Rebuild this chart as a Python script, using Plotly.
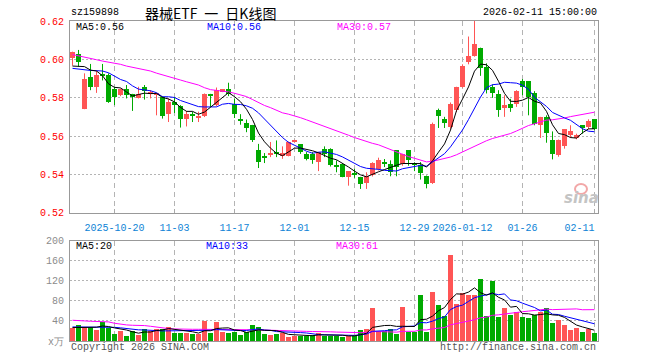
import numpy as np
import plotly.graph_objects as go

# ---------------- data ----------------
tick_idx = [7, 17, 27, 37, 47, 57, 65, 75, 87]
tick_text = ["2025-10-20", "11-03", "11-17", "12-01", "12-15", "12-29",
             "2026-01-12", "01-26", "02-11" + "\u00a0" * 5]

opens = [0.6009, 0.6028, 0.5743, 0.5906, 0.5857, 0.5925, 0.5918, 0.5843, 0.5813, 0.5843,
         0.5818, 0.5796, 0.5857, 0.5817, 0.5816, 0.5804, 0.5717, 0.5778, 0.5755, 0.5687,
         0.5714, 0.5696, 0.5703, 0.5818, 0.5761, 0.5831, 0.5843, 0.5769, 0.5687, 0.5668,
         0.5656, 0.5525, 0.5488, 0.5504, 0.5514, 0.5497, 0.5497, 0.5569, 0.5556, 0.5504,
         0.5507, 0.5463, 0.5534, 0.5534, 0.5447, 0.5455, 0.5385, 0.5404, 0.5385, 0.5353,
         0.5397, 0.5429, 0.5458, 0.5455, 0.5525, 0.5455, 0.5525, 0.5455, 0.5450, 0.5390,
         0.5354, 0.5734, 0.5687, 0.5647, 0.5734, 0.5857, 0.5988, 0.6019, 0.6061, 0.5962,
         0.5857, 0.5818, 0.5747, 0.5769, 0.5769, 0.5887, 0.5887, 0.5827, 0.5659, 0.5700,
         0.5577, 0.5499, 0.5548, 0.5603, 0.5590, 0.5656, 0.5647, 0.5687]
highs = [0.6040, 0.6049, 0.5927, 0.5976, 0.5941, 0.5976, 0.5927, 0.5857, 0.5848, 0.5866,
         0.5820, 0.5857, 0.5866, 0.5839, 0.5820, 0.5808, 0.5796, 0.5804, 0.5761, 0.5731,
         0.5727, 0.5727, 0.5822, 0.5820, 0.5853, 0.5845, 0.5878, 0.5796, 0.5714, 0.5686,
         0.5658, 0.5559, 0.5511, 0.5569, 0.5577, 0.5546, 0.5571, 0.5580, 0.5558, 0.5516,
         0.5516, 0.5516, 0.5546, 0.5536, 0.5473, 0.5458, 0.5415, 0.5429, 0.5387, 0.5411,
         0.5463, 0.5487, 0.5480, 0.5473, 0.5527, 0.5507, 0.5527, 0.5463, 0.5464, 0.5394,
         0.5670, 0.5743, 0.5700, 0.5775, 0.5857, 0.5974, 0.6119, 0.6200, 0.6061, 0.5979,
         0.5869, 0.5839, 0.5813, 0.5794, 0.5839, 0.5897, 0.5887, 0.5834, 0.5700, 0.5708,
         0.5624, 0.5582, 0.5635, 0.5656, 0.5612, 0.5656, 0.5687, 0.5687]
lows = [0.5967, 0.5962, 0.5740, 0.5839, 0.5825, 0.5890, 0.5773, 0.5761, 0.5808, 0.5796,
        0.5731, 0.5796, 0.5790, 0.5796, 0.5708, 0.5691, 0.5673, 0.5720, 0.5644, 0.5650,
        0.5673, 0.5673, 0.5699, 0.5752, 0.5755, 0.5829, 0.5808, 0.5694, 0.5659, 0.5620,
        0.5569, 0.5433, 0.5459, 0.5490, 0.5490, 0.5481, 0.5494, 0.5567, 0.5507, 0.5473,
        0.5455, 0.5417, 0.5490, 0.5441, 0.5411, 0.5385, 0.5341, 0.5382, 0.5324, 0.5324,
        0.5389, 0.5420, 0.5438, 0.5390, 0.5390, 0.5445, 0.5445, 0.5417, 0.5373, 0.5327,
        0.5350, 0.5642, 0.5642, 0.5638, 0.5725, 0.5852, 0.5974, 0.6014, 0.5914, 0.5822,
        0.5799, 0.5700, 0.5700, 0.5726, 0.5752, 0.5813, 0.5708, 0.5656, 0.5590, 0.5565,
        0.5478, 0.5492, 0.5534, 0.5590, 0.5583, 0.5612, 0.5635, 0.5630]
closes = [0.6038, 0.5988, 0.5895, 0.5857, 0.5918, 0.5915, 0.5778, 0.5801, 0.5843, 0.5813,
          0.5808, 0.5818, 0.5836, 0.5831, 0.5818, 0.5703, 0.5778, 0.5761, 0.5687, 0.5714,
          0.5703, 0.5703, 0.5818, 0.5813, 0.5839, 0.5843, 0.5818, 0.5714, 0.5680, 0.5643,
          0.5577, 0.5463, 0.5486, 0.5514, 0.5510, 0.5514, 0.5569, 0.5577, 0.5516, 0.5481,
          0.5473, 0.5516, 0.5504, 0.5447, 0.5441, 0.5385, 0.5415, 0.5397, 0.5350, 0.5389,
          0.5458, 0.5473, 0.5455, 0.5411, 0.5441, 0.5504, 0.5476, 0.5452, 0.5408, 0.5350,
          0.5665, 0.5703, 0.5668, 0.5769, 0.5857, 0.5967, 0.6019, 0.6080, 0.5953, 0.5839,
          0.5822, 0.5734, 0.5764, 0.5747, 0.5834, 0.5857, 0.5804, 0.5665, 0.5700, 0.5617,
          0.5507, 0.5577, 0.5635, 0.5624, 0.5603, 0.5647, 0.5677, 0.5638]
volumes = [26.7, 32.0, 28.0, 28.7, 22.0, 38.7, 26.7, 14.0, 20.0, 10.0,
           21.3, 12.7, 25.3, 20.0, 25.3, 25.3, 28.0, 16.7, 16.7, 16.7,
           14.0, 14.7, 40.0, 16.7, 38.7, 18.7, 16.7, 18.7, 12.0, 18.7,
           33.3, 28.0, 14.7, 12.0, 14.7, 16.7, 8.0, 10.7, 10.7, 10.7,
           12.0, 17.3, 10.7, 10.7, 10.7, 8.0, 10.7, 10.7, 22.7, 24.7,
           66.7, 20.0, 20.0, 24.0, 14.7, 68.0, 18.7, 18.7, 92.7, 18.7,
           98.7, 72.7, 50.0, 172.7, 74.7, 96.0, 93.3, 92.0, 124.7, 50.0,
           120.0, 48.0, 66.0, 52.7, 58.0, 48.0, 46.0, 53.3, 58.0, 66.0,
           36.7, 42.0, 32.0, 22.0, 26.0, 18.0, 24.7, 16.7]

# moving-average values at the start of the window (history not shown)
ma5_head = [0.5965, 0.5965, 0.5962, 0.5944]
ma10_head = [0.5953, 0.5949, 0.5946, 0.5942, 0.5941, 0.5939, 0.5930, 0.5912, 0.5895]
ma30_head = [0.6025, 0.6019, 0.6012, 0.6005, 0.5998, 0.5991, 0.5986, 0.5979, 0.5974, 0.5965,
             0.5958, 0.5951, 0.5944, 0.5939, 0.5928, 0.5920, 0.5909, 0.5900, 0.5892, 0.5883,
             0.5874, 0.5866, 0.5852, 0.5842, 0.5838, 0.5835, 0.5830, 0.5823, 0.5815]
vma5_head = [26.7, 26.7, 26.7, 27.3]
vma10_head = [28.0, 28.0, 28.0, 28.0, 28.0, 28.0, 28.0, 27.2, 26.2]
vma30_head = [41.3, 41.3, 40.0, 39.3, 38.7, 38.7, 38.0, 35.3, 33.3, 32.0,
              31.3, 31.3, 30.7, 29.3, 27.3, 25.3, 24.7, 24.0, 23.3, 23.3,
              23.3, 23.3, 23.3, 23.3, 23.3, 23.3, 23.3, 22.7, 22.7]

price_ticks = [0.52, 0.54, 0.56, 0.58, 0.60, 0.62]
vol_ticks = [0, 40, 80, 120, 160, 200]
vol_ticktext = ["x万", "40", "80", "120", "160", "200"]

# ---------------- helpers ----------------
def moving_avg(vals, n, head):
    out = []
    for i in range(len(vals)):
        if i < len(head):
            out.append(head[i])
        else:
            out.append(float(np.mean(vals[i - n + 1:i + 1])))
    return out

RED = "#ff5555"
GREEN = "#00aa00"
MONO = "Liberation Mono, DejaVu Sans Mono, monospace"

n = len(closes)
idx = list(range(n))
up = [c >= o for o, c in zip(opens, closes)]
colors = [RED if u else GREEN for u in up]
body_base = [min(o, c) for o, c in zip(opens, closes)]
body_h = [max(abs(c - o), 0.0005) for o, c in zip(opens, closes)]

fig = go.Figure()

# wicks
for flag, col in ((True, RED), (False, GREEN)):
    wx, wy = [], []
    for i in idx:
        if up[i] == flag:
            wx += [i, i, None]
            wy += [lows[i], highs[i], None]
    fig.add_trace(go.Scatter(x=wx, y=wy, mode="lines", line=dict(color=col, width=1),
                             hoverinfo="skip", xaxis="x", yaxis="y"))

# bodies
fig.add_trace(go.Bar(x=idx, y=body_h, base=body_base, width=0.8333,
                     marker=dict(color=colors, line=dict(width=0)),
                     xaxis="x", yaxis="y"))

# price MAs
for vals, col in ((moving_avg(closes, 30, ma30_head), "#ff00ff"),
                  (moving_avg(closes, 10, ma10_head), "#0000ff"),
                  (moving_avg(closes, 5, ma5_head), "#000000")):
    fig.add_trace(go.Scatter(x=idx, y=vals, mode="lines", line=dict(color=col, width=1),
                             xaxis="x", yaxis="y"))

# volume
fig.add_trace(go.Bar(x=idx, y=volumes, width=0.8333,
                     marker=dict(color=colors, line=dict(width=0)),
                     xaxis="x2", yaxis="y2"))
for vals, col in ((moving_avg(volumes, 30, vma30_head), "#ff00ff"),
                  (moving_avg(volumes, 10, vma10_head), "#0000ff"),
                  (moving_avg(volumes, 5, vma5_head), "#000000")):
    fig.add_trace(go.Scatter(x=idx, y=vals, mode="lines", line=dict(color=col, width=1),
                             xaxis="x2", yaxis="y2"))

# ---------------- layout ----------------
L, R, T, B = 70, 598, 21, 341
def px(x):
    return (x - L) / (R - L)
def py(y):
    return (B - y) / (B - T)

xr = [-0.4167, 87.5833]
grid_common = dict(showline=True, linecolor="#999999", linewidth=1, mirror=True,
                   zeroline=False, fixedrange=True)

fig.update_layout(
    width=660, height=360,
    margin=dict(l=L, r=660 - R, t=T, b=360 - B),
    paper_bgcolor="white", plot_bgcolor="white",
    showlegend=False, bargap=0, barmode="overlay",
    xaxis=dict(domain=[0, 1], anchor="y", range=xr, tickmode="array",
               tickvals=tick_idx, ticktext=tick_text,
               showgrid=True, gridcolor="#b4b4b4", griddash="5px,4px", gridwidth=1,
               ticks="inside", ticklen=4, tickcolor="#aaaaaa",
               ticklabelstandoff=5,
               tickfont=dict(family=MONO, size=10, color="#0d83d6"), **grid_common),
    yaxis=dict(domain=[py(212.7), 1], anchor="x", range=[0.52, 0.62],
               tickmode="array", tickvals=price_ticks,
               ticktext=[f"{v:.2f}" for v in price_ticks],
               showgrid=True, gridcolor="#b4b4b4", griddash="2px,2px", gridwidth=1,
               ticks="", ticklabelstandoff=3,
               tickfont=dict(family=MONO, size=10, color="#ff0000"), **grid_common),
    xaxis2=dict(domain=[0, 1], anchor="y2", range=xr, matches="x", tickmode="array",
                tickvals=tick_idx, showticklabels=False,
                showgrid=True, gridcolor="#b4b4b4", griddash="5px,4px", gridwidth=1,
                ticks="", **grid_common),
    yaxis2=dict(domain=[0, py(240.5)], anchor="x2", range=[0, 200],
                tickmode="array", tickvals=vol_ticks, ticktext=vol_ticktext,
                showgrid=True, gridcolor="#b4b4b4", griddash="2px,2px", gridwidth=1,
                ticks="", ticklabelstandoff=3,
                tickfont=dict(family=MONO, size=10, color="#8c8c8c"), **grid_common),
)

def note(text, x, y, color="#000000", anchor="left", size=10, family=MONO, **kw):
    fig.add_annotation(text=text, x=px(x), y=py(y), xref="paper", yref="paper",
                       xanchor=anchor, yanchor="middle", showarrow=False,
                       font=dict(family=family, size=size, color=color), **kw)

note("sz159898", 69, 12)
note("器械ETF\u2002一\u2002日K线图", 210, 13, anchor="center", size=14,
     family="Noto Sans CJK SC, sans-serif")
note("2026-02-11 15:00:00", 599, 12, anchor="right")
note("MA5:0.56", 74, 27)
note("MA10:0.56", 205, 27, color="#0000ff")
note("MA30:0.57", 335, 27, color="#ff00ff")
note("MA5:20", 74, 246)
note("MA10:33", 204, 246, color="#0000ff")
note("MA30:61", 334, 246, color="#ff00ff")
note("Copyright 2026 SINA.COM", 69, 347, color="#555555")
note("http://finance.sina.com.cn", 598, 347, color="#555555", anchor="right")
note("<b><i>sina</i></b>", 581, 198, color="#c4c4c4", anchor="center", size=15,
     family="DejaVu Sans, sans-serif")
fig.add_shape(type="circle", xref="paper", yref="paper",
              x0=px(575), x1=px(587), y0=py(194), y1=py(184),
              line=dict(color="#f2a8a8", width=2))

fig.write_html("out.html")
